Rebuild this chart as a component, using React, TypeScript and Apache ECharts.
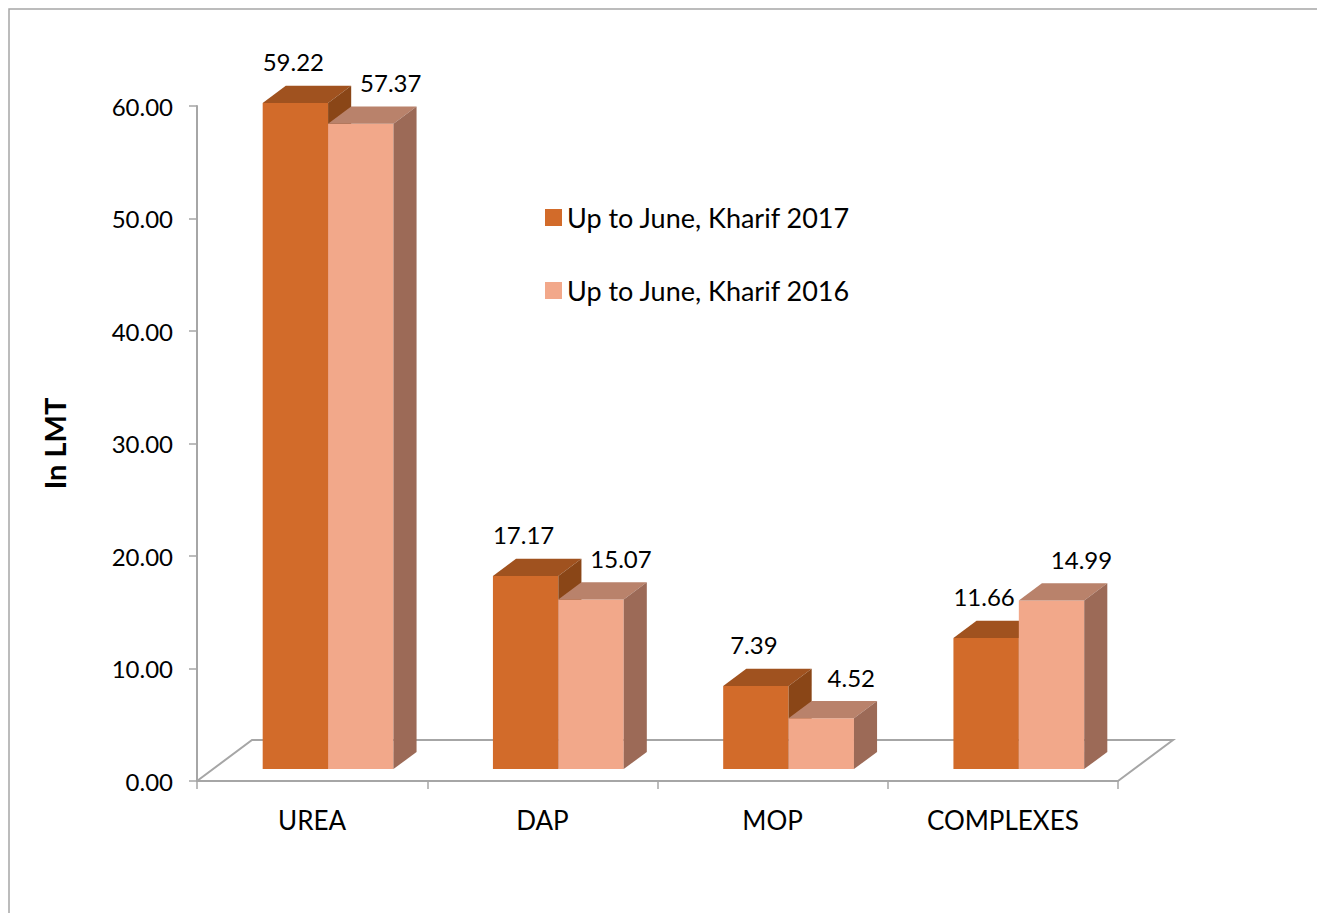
import React, { useEffect, useRef } from "react";
import * as echarts from "echarts";

const categories = ["UREA", "DAP", "MOP", "COMPLEXES"];
const seriesNames = ["Up to June, Kharif 2017", "Up to June, Kharif 2016"];
const values2017 = [59.22, 17.17, 7.39, 11.66];
const values2016 = [57.37, 15.07, 4.52, 14.99];

const FONT = "Lato, 'Open Sans', sans-serif";
const DEPTH_X = 55;
const DEPTH_Y = -41;
const Z0 = 0.29;
const Z1 = 0.71;
const BAR_FRAC = 0.284;

const palettes = [
  { front: "#D26B2A", top: "#A0521F", side: "#8A4617" },
  { front: "#F2A88A", top: "#B9826B", side: "#9C6A57" },
];
const labelDx = [-2, 30];

function makeBarRender(idx: number) {
  return (params: any, api: any) => {
    const cat = api.value(0);
    const v = api.value(1);
    const base = api.coord([cat, 0]);
    const top = api.coord([cat, v]);
    const band = api.size([1, 0])[0];
    const w = band * BAR_FRAC;
    const x0 = base[0] - w + idx * w + Z0 * DEPTH_X;
    const yb = base[1] + Z0 * DEPTH_Y;
    const yt = top[1] + Z0 * DEPTH_Y;
    const dx = (Z1 - Z0) * DEPTH_X;
    const dy = (Z1 - Z0) * DEPTH_Y;
    const c = palettes[idx];
    return {
      type: "group",
      children: [
        {
          type: "rect",
          shape: { x: x0, y: yt, width: w, height: yb - yt },
          style: { fill: c.front },
        },
        {
          type: "polygon",
          shape: {
            points: [
              [x0, yt],
              [x0 + dx, yt + dy],
              [x0 + w + dx, yt + dy],
              [x0 + w, yt],
            ],
          },
          style: { fill: c.top },
        },
        {
          type: "polygon",
          shape: {
            points: [
              [x0 + w, yt],
              [x0 + w + dx, yt + dy],
              [x0 + w + dx, yb + dy],
              [x0 + w, yb],
            ],
          },
          style: { fill: c.side },
        },
        {
          type: "text",
          style: {
            x: x0 + w / 2 + labelDx[idx],
            y: yt + dy - 24,
            text: v.toFixed(2),
            fill: "#000",
            font: `24px ${FONT}`,
            textAlign: "center",
            textVerticalAlign: "middle",
          },
        },
      ],
    };
  };
}

export default function App() {
  const ref = useRef<HTMLDivElement>(null);
  useEffect(() => {
    const chart = echarts.init(ref.current!, null, { renderer: "svg" });
    chart.setOption({
      animation: false,
      backgroundColor: "#fff",
      textStyle: { fontFamily: FONT },
      graphic: [
        {
          type: "polyline",
          shape: { points: [[9, 913], [9, 9], [1317, 9]] },
          style: { fill: "none", stroke: "#A6A6A6", lineWidth: 1.5 },
        },
      ],
      legend: {
        data: seriesNames,
        orient: "vertical",
        left: 545,
        top: 204,
        padding: 0,
        icon: "rect",
        itemWidth: 17,
        itemHeight: 17,
        itemGap: 46,
        textStyle: { fontSize: 27, color: "#000", fontFamily: FONT },
      },
      grid: { left: 197, right: 199, top: 106, bottom: 132 },
      xAxis: {
        type: "category",
        data: categories,
        axisLine: { lineStyle: { color: "#A6A6A6", width: 2 } },
        axisTick: { show: true, length: 8, lineStyle: { color: "#A6A6A6", width: 1.5 } },
        axisLabel: { color: "#000", fontSize: 26, margin: 26, fontFamily: FONT },
      },
      yAxis: {
        type: "value",
        min: 0,
        max: 60,
        interval: 10,
        name: "In LMT",
        nameLocation: "middle",
        nameRotate: 90,
        nameGap: 128,
        nameTextStyle: { fontSize: 29, fontWeight: "bold", color: "#000", fontFamily: FONT },
        splitLine: { show: false },
        axisLine: { show: true, lineStyle: { color: "#A6A6A6", width: 2 } },
        axisTick: { show: true, length: 8, lineStyle: { color: "#A6A6A6", width: 1.5 } },
        axisLabel: {
          color: "#000",
          fontSize: 24,
          margin: 24,
          fontFamily: FONT,
          formatter: (v: number) => v.toFixed(2),
        },
      },
      series: [
        {
          type: "custom",
          name: "floor",
          z: 1,
          data: [[0, 0]],
          renderItem: (params: any, api: any) => {
            const cs = params.coordSys;
            const yb = cs.y + cs.height;
            return {
              type: "polyline",
              shape: {
                points: [
                  [cs.x, yb],
                  [cs.x + DEPTH_X, yb + DEPTH_Y],
                  [cs.x + cs.width + DEPTH_X, yb + DEPTH_Y],
                  [cs.x + cs.width, yb],
                ],
              },
              style: { fill: "none", stroke: "#A6A6A6", lineWidth: 2 },
            };
          },
        },
        {
          type: "custom",
          name: seriesNames[0],
          z: 2,
          itemStyle: { color: palettes[0].front },
          encode: { x: 0, y: 1 },
          data: values2017.map((v, i) => [i, v]),
          renderItem: makeBarRender(0),
        },
        {
          type: "custom",
          name: seriesNames[1],
          z: 3,
          itemStyle: { color: palettes[1].front },
          encode: { x: 0, y: 1 },
          data: values2016.map((v, i) => [i, v]),
          renderItem: makeBarRender(1),
        },
      ],
    });
    return () => chart.dispose();
  }, []);
  return (
    <div
      ref={ref}
      style={{ position: "fixed", left: 0, top: 0, width: 1317, height: 913 }}
    />
  );
}
